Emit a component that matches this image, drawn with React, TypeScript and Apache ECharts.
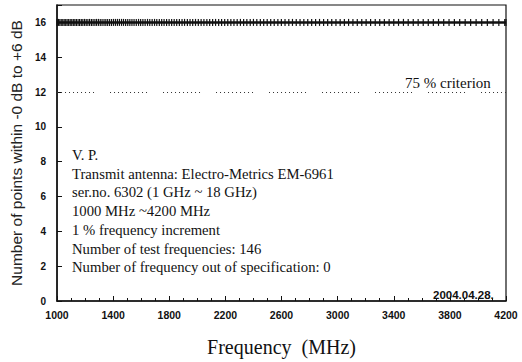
import React, { useEffect, useRef } from "react";
import * as echarts from "echarts";

// Test frequencies (MHz), 1 % increments from 1000 to 4200 MHz (146 points)
const frequencies: number[] = [
  1000, 1010, 1020, 1030, 1041, 1051, 1062, 1072, 1083, 1094,
  1105, 1116, 1127, 1138, 1150, 1161, 1173, 1184, 1196, 1208,
  1220, 1232, 1245, 1257, 1270, 1282, 1295, 1308, 1321, 1335,
  1348, 1361, 1375, 1389, 1403, 1417, 1431, 1445, 1460, 1474,
  1489, 1504, 1519, 1534, 1549, 1565, 1581, 1596, 1612, 1628,
  1645, 1661, 1678, 1695, 1711, 1729, 1746, 1763, 1781, 1799,
  1817, 1835, 1853, 1872, 1891, 1909, 1929, 1948, 1967, 1987,
  2007, 2027, 2047, 2068, 2088, 2109, 2130, 2152, 2173, 2195,
  2217, 2239, 2261, 2284, 2307, 2330, 2353, 2377, 2400, 2424,
  2449, 2473, 2498, 2523, 2548, 2574, 2599, 2625, 2652, 2678,
  2705, 2732, 2759, 2787, 2815, 2843, 2871, 2900, 2929, 2958,
  2988, 3018, 3048, 3078, 3109, 3140, 3172, 3203, 3235, 3268,
  3300, 3333, 3367, 3400, 3434, 3469, 3503, 3539, 3574, 3610,
  3646, 3682, 3719, 3756, 3794, 3832, 3870, 3909, 3948, 3987,
  4027, 4067, 4108, 4149, 4191, 4200,
];

// Number of points within -0 dB to +6 dB at each frequency
const pointsWithin: number[] = [
  16, 16, 16, 16, 16, 16, 16, 16, 16, 16,
  16, 16, 16, 16, 16, 16, 16, 16, 16, 16,
  16, 16, 16, 16, 16, 16, 16, 16, 16, 16,
  16, 16, 16, 16, 16, 16, 16, 16, 16, 16,
  16, 16, 16, 16, 16, 16, 16, 16, 16, 16,
  16, 16, 16, 16, 16, 16, 16, 16, 16, 16,
  16, 16, 16, 16, 16, 16, 16, 16, 16, 16,
  16, 16, 16, 16, 16, 16, 16, 16, 16, 16,
  16, 16, 16, 16, 16, 16, 16, 16, 16, 16,
  16, 16, 16, 16, 16, 16, 16, 16, 16, 16,
  16, 16, 16, 16, 16, 16, 16, 16, 16, 16,
  16, 16, 16, 16, 16, 16, 16, 16, 16, 16,
  16, 16, 16, 16, 16, 16, 16, 16, 16, 16,
  16, 16, 16, 16, 16, 16, 16, 16, 16, 16,
  16, 16, 16, 16, 16, 16,
];

const criterionValue = 12; // 75 % of 16 points
const criterionLabel = "75 % criterion";

const infoLines: string[] = [
  "V. P.",
  "Transmit antenna: Electro-Metrics EM-6961",
  "ser.no. 6302 (1 GHz ~ 18 GHz)",
  "1000 MHz ~4200 MHz",
  "1 % frequency increment",
  "Number of test frequencies: 146",
  "Number of frequency out of specification: 0",
];

const dateStamp = "2004.04.28.";

const X_MIN = 1000;
const X_MAX = 4200;
const X_INTERVAL = 400;
const Y_MIN = 0;
const Y_MAX = 17;
const Y_INTERVAL = 2;

const SERIF = "'Liberation Serif', 'Times New Roman', serif";
const SANS = "'Liberation Sans', Arial, sans-serif";

export default function App() {
  const ref = useRef<HTMLDivElement>(null);

  useEffect(() => {
    if (!ref.current) return;
    const chart = echarts.init(ref.current, undefined, { renderer: "svg" });

    const dots: number[] = [];
    for (let i = 0; i < 10; i++) {
      dots.push(1, i === 9 ? 16 : 3);
    }

    const lineY0 = 155;
    const lineStep = 18.7;

    chart.setOption({
      animation: false,
      backgroundColor: "#ffffff",
      grid: {
        left: 56,
        right: 16,
        top: 5,
        bottom: 57,
        show: true,
        borderColor: "#111",
        borderWidth: 1.2,
        backgroundColor: "transparent",
      },
      xAxis: {
        type: "value",
        min: X_MIN,
        max: X_MAX,
        interval: X_INTERVAL,
        name: "Frequency  (MHz)",
        nameLocation: "middle",
        nameGap: 36,
        nameTextStyle: { fontFamily: SERIF, fontSize: 20, color: "#111" },
        axisLine: { show: true, lineStyle: { color: "#111", width: 1.5 } },
        axisTick: { show: true, inside: true, length: 5, lineStyle: { color: "#111" } },
        minorTick: { show: true, splitNumber: 4, length: 3, lineStyle: { color: "#111" } },
        axisLabel: {
          fontFamily: SANS,
          fontWeight: "bold",
          fontSize: 10.5,
          color: "#111",
          margin: 8,
          formatter: (v: number) => String(v),
        },
        splitLine: { show: false },
      },
      yAxis: {
        type: "value",
        min: Y_MIN,
        max: Y_MAX,
        interval: Y_INTERVAL,
        name: "Number of points within -0 dB to +6 dB",
        nameLocation: "middle",
        nameGap: 28,
        nameTextStyle: { fontFamily: SANS, fontSize: 15.5, color: "#222" },
        axisLine: { show: true, lineStyle: { color: "#111", width: 1.5 } },
        axisTick: { show: true, inside: true, length: 5, lineStyle: { color: "#111" } },
        axisLabel: {
          fontFamily: SANS,
          fontWeight: "bold",
          fontSize: 10,
          color: "#111",
          margin: 11,
          formatter: (v: number) => (v === Y_MAX ? "" : String(v)),
        },
        splitLine: { show: false },
      },
      series: [
        {
          type: "line",
          data: frequencies.map((f, i) => [f, pointsWithin[i]]),
          symbol: "rect",
          symbolSize: [1.2, 7],
          showSymbol: true,
          itemStyle: { color: "#111" },
          lineStyle: { color: "#111", width: 2.5 },
          silent: true,
          markLine: {
            silent: true,
            symbol: "none",
            label: { show: false },
            lineStyle: { color: "#333", width: 1, type: dots },
            data: [{ yAxis: criterionValue }],
          },
        },
      ],
      graphic: [
        {
          type: "text",
          left: 405,
          top: 75,
          style: {
            text: criterionLabel,
            fontFamily: SERIF,
            fontSize: 15,
            fill: "#111",
          },
        },
        ...infoLines.map((t, i) => ({
          type: "text",
          x: 72,
          y: lineY0 + i * lineStep,
          style: {
            text: t,
            fontFamily: SERIF,
            fontSize: 14.7,
            fill: "#111",
            verticalAlign: "middle",
          },
        })),
        {
          type: "text",
          x: 433,
          y: 295,
          style: {
            text: dateStamp,
            fontFamily: SANS,
            fontWeight: "bold",
            fontSize: 11.5,
            fill: "#111",
            verticalAlign: "middle",
          },
        },
      ],
    });

    return () => chart.dispose();
  }, []);

  return <div ref={ref} style={{ width: 522, height: 362, position: "absolute", left: 0, top: 0 }} />;
}
